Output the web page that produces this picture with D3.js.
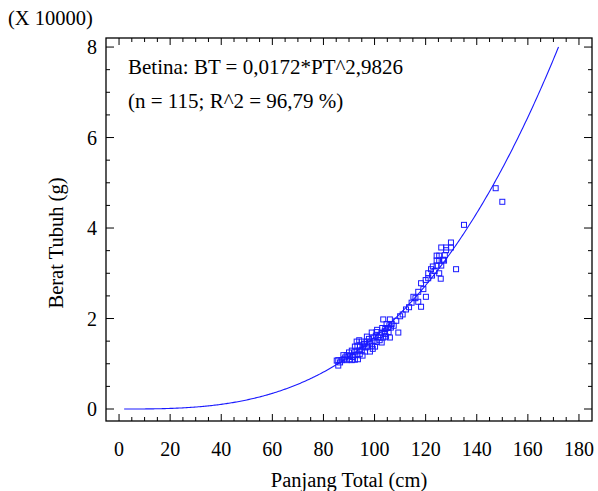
<!DOCTYPE html>
<html>
<head>
<meta charset="utf-8">
<script src="https://cdn.jsdelivr.net/npm/d3@7"></script>
<style>
  html, body { margin: 0; padding: 0; background: #fff; }
  svg { display: block; }
  text { font-family: "Liberation Serif", "Times New Roman", serif; fill: #000; }
</style>
</head>
<body>
<svg id="chart" width="598" height="491"></svg>
<script>
// ---- data ----
// Panjang Total (cm)
const panjang = [
  85.2, 85.8, 85.8, 87.1, 88.0, 89.1, 90.2, 91.1, 92.3, 93.5,
  87.8, 89.1, 90.4, 91.7, 93.0, 94.2, 95.3, 91.1, 92.5, 93.8,
  95.0, 96.3, 98.2, 92.3, 93.3, 94.3, 95.6, 96.5, 97.4, 99.0,
  100.2, 93.0, 95.0, 96.9, 98.2, 99.6, 100.8, 102.8, 94.0, 97.8,
  99.5, 101.5, 103.4, 106.0, 100.5, 102.0, 104.5, 98.9, 100.8, 102.8,
  104.0, 105.5, 109.3, 103.0, 104.2, 105.2, 106.4, 104.7, 106.7, 105.8,
  103.4, 106.0, 101.0, 97.0, 90.0, 88.5, 86.5, 96.0, 102.0, 107.5,
  108.5, 110.0, 111.0, 112.3, 113.5, 114.5, 115.2, 116.0, 117.1, 118.2,
  117.1, 119.1, 120.1, 118.2, 120.0, 121.0, 121.0, 122.1, 122.5, 123.5,
  125.3, 125.9, 124.3, 126.1, 122.8, 124.3, 125.3, 127.2, 126.8, 124.3,
  125.3, 126.1, 128.0, 127.5, 128.0, 129.9, 129.9, 131.9, 135.0, 147.4,
  150.0, 99.3, 91.5, 104.0, 95.8
];
// Berat Tubuh (x 10000 g)
const berat = [
  1.07, 0.96, 1.08, 1.08, 1.10, 1.08, 1.10, 1.08, 1.09, 1.10,
  1.19, 1.19, 1.17, 1.19, 1.19, 1.21, 1.18, 1.29, 1.27, 1.29,
  1.30, 1.27, 1.27, 1.38, 1.40, 1.38, 1.38, 1.36, 1.38, 1.40,
  1.38, 1.49, 1.49, 1.49, 1.47, 1.50, 1.48, 1.47, 1.52, 1.55,
  1.58, 1.58, 1.58, 1.58, 1.62, 1.63, 1.60, 1.69, 1.70, 1.69,
  1.72, 1.70, 1.69, 1.79, 1.77, 1.79, 1.80, 1.88, 1.88, 1.85,
  1.98, 1.98, 1.75, 1.60, 1.25, 1.14, 1.03, 1.43, 1.52, 1.84,
  1.95, 2.05, 2.09, 2.20, 2.25, 2.35, 2.48, 2.45, 2.37, 2.26,
  2.59, 2.65, 2.48, 2.78, 2.85, 3.00, 2.89, 3.09, 2.95, 3.05,
  3.00, 2.88, 3.17, 3.17, 3.15, 3.28, 3.28, 3.28, 3.30, 3.39,
  3.39, 3.57, 3.51, 3.40, 3.57, 3.57, 3.68, 3.09, 4.07, 4.88,
  4.58, 1.33, 1.15, 1.66, 1.44
];
// fitted model printed on the chart: BT = a * PT^b (grams), shown x 10000
const fitA = 0.0172;
const fitB = 2.9826;
const fitRange = [2, 172];
const yScaleFactor = 10000;

const xTicks = [0, 20, 40, 60, 80, 100, 120, 140, 160, 180];
const yTicks = [0, 2, 4, 6, 8];

const titleLines = ["Betina: BT = 0,0172*PT^2,9826", "(n = 115; R^2 = 96,79 %)"];
const xLabel = "Panjang Total (cm)";
const yLabel = "Berat Tubuh (g)";
const yMultiplier = "(X 10000)";

// ---- layout ----
const svg = d3.select("#chart");
const L = 106, R = 592, T = 38, B = 421;
const x = d3.scaleLinear().domain([-5.1, 185.1]).range([L, R]);
const y = d3.scaleLinear().domain([-0.265, 8.2]).range([B, T]);
const blue = "#1a1aff";

// frame
svg.append("rect").attr("x", L).attr("y", T).attr("width", R - L).attr("height", B - T)
  .attr("fill", "none").attr("stroke", "#000").attr("stroke-width", 1.3);

// ticks
const xMinor = d3.range(0, 181, 5);
const yMinor = d3.range(0, 8.01, 0.5);
const tk = svg.append("g").attr("stroke", "#000").attr("stroke-width", 1);
xMinor.forEach(v => {
  const len = (v % 20 === 0) ? 7 : 4;
  tk.append("line").attr("x1", x(v)).attr("x2", x(v)).attr("y1", B).attr("y2", B - len);
  tk.append("line").attr("x1", x(v)).attr("x2", x(v)).attr("y1", T).attr("y2", T + len);
});
yMinor.forEach(v => {
  const len = (Math.abs(v % 2) < 1e-9) ? 8 : 4;
  tk.append("line").attr("x1", L).attr("x2", L + len).attr("y1", y(v)).attr("y2", y(v));
  tk.append("line").attr("x1", R).attr("x2", R - len).attr("y1", y(v)).attr("y2", y(v));
});

// tick labels
svg.append("g").selectAll("text").data(xTicks).join("text")
  .attr("x", d => x(d)).attr("y", 456).attr("text-anchor", "middle")
  .attr("font-size", 20).text(d => d);
svg.append("g").selectAll("text").data(yTicks).join("text")
  .attr("x", 97).attr("y", d => y(d) + 7).attr("text-anchor", "end")
  .attr("font-size", 20).text(d => d);

// axis titles
svg.append("text").attr("x", 349).attr("y", 487).attr("text-anchor", "middle")
  .attr("font-size", 20.5).text(xLabel);
svg.append("text").attr("transform", "translate(63,243) rotate(-90)")
  .attr("text-anchor", "middle").attr("font-size", 20.5).text(yLabel);
svg.append("text").attr("x", 8).attr("y", 25).attr("font-size", 20.5).text(yMultiplier);

// annotation
svg.append("text").attr("x", 128).attr("y", 74).attr("font-size", 21).text(titleLines[0]);
svg.append("text").attr("x", 128).attr("y", 108).attr("font-size", 21).text(titleLines[1]);

// fitted curve
const curvePts = d3.range(fitRange[0], fitRange[1] + 0.001, 0.5)
  .map(p => [p, fitA * Math.pow(p, fitB) / yScaleFactor]);
svg.append("path").datum(curvePts)
  .attr("d", d3.line().x(d => x(d[0])).y(d => y(d[1])))
  .attr("fill", "none").attr("stroke", blue).attr("stroke-width", 1.1);

// points
const s = 5;
svg.append("g").selectAll("rect").data(d3.zip(panjang, berat)).join("rect")
  .attr("x", d => x(d[0]) - s / 2).attr("y", d => y(d[1]) - s / 2)
  .attr("width", s).attr("height", s)
  .attr("fill", "none").attr("stroke", blue).attr("stroke-width", 1);
</script>
</body>
</html>
